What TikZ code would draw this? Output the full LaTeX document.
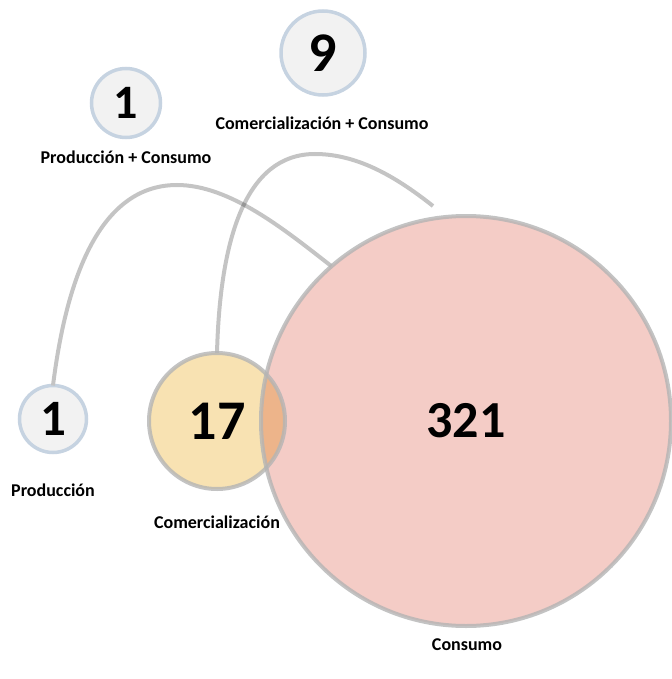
\documentclass[tikz,border=0pt]{standalone}
\usepackage{fontspec}
\setmainfont{Carlito}
\definecolor{ringblue}{HTML}{C6D3E1}
\definecolor{ringfill}{HTML}{F2F2F2}
\definecolor{linegray}{HTML}{C4C4C4}
\definecolor{consfill}{HTML}{F4CCC6}
\definecolor{comfill}{HTML}{F8E2B2}
\definecolor{bordergray}{HTML}{B4B4B4}
\tikzset{
  smallset/.style={circle,draw=ringblue,fill=ringfill,line width=3.5pt,inner sep=0pt},
  vennfill/.style={circle,inner sep=0pt},
  vennset/.style={circle,draw=bordergray,draw opacity=0.8,line width=4pt,inner sep=0pt},
  setlabel/.style={font=\bfseries\fontsize{18}{21}\selectfont},
  link/.style={draw=linegray,line width=4pt}
}
\begin{document}
\begin{tikzpicture}[x=1pt,y=-1pt]
\useasboundingbox (0,0) rectangle (671,679);
\node[smallset,minimum size=67pt,font=\bfseries\fontsize{51}{56}\selectfont] (prod) at (53,419) {1};
\node[smallset,minimum size=69pt,font=\bfseries\fontsize{48}{54}\selectfont] (prodcons) at (126,103) {1};
\node[smallset,minimum size=84pt,font=\bfseries\fontsize{56}{60}\selectfont] (comcons) at (323,53) {9};
\begin{scope}[blend group=multiply]
\node[vennfill,fill=consfill,minimum size=410pt] (consarea) at (466,421) {};
\node[vennfill,fill=comfill,minimum size=136pt] (comarea) at (217,421) {};
\coordinate (comconsend) at (433,206);
\draw[link] ([yshift=-1.75pt]prod.north) .. controls (65,290) and (95,185) .. (177,185)
  .. controls (230,185) and (285,230) .. (consarea.131);
\draw[link] (comarea.north) .. controls (220,240) and (245,154) .. (315,154)
  .. controls (360,154) and (400,180) .. (comconsend);
\end{scope}
\node[vennset,minimum size=410pt,font=\bfseries\fontsize{52}{58}\selectfont] (cons) at (consarea) {321};
\node[vennset,minimum size=136pt,font=\bfseries\fontsize{56}{60}\selectfont] (com) at (comarea) {17};
\node[setlabel] (prodconslabel) at (126,157) {Producción + Consumo};
\node[setlabel] (comconslabel) at (322,123) {Comercialización + Consumo};
\node[setlabel] (prodlabel) at (53,490) {Producción};
\node[setlabel] (comlabel) at (217,522) {Comercialización};
\node[setlabel] (conslabel) at (467,645) {Consumo};
\end{tikzpicture}
\end{document}
